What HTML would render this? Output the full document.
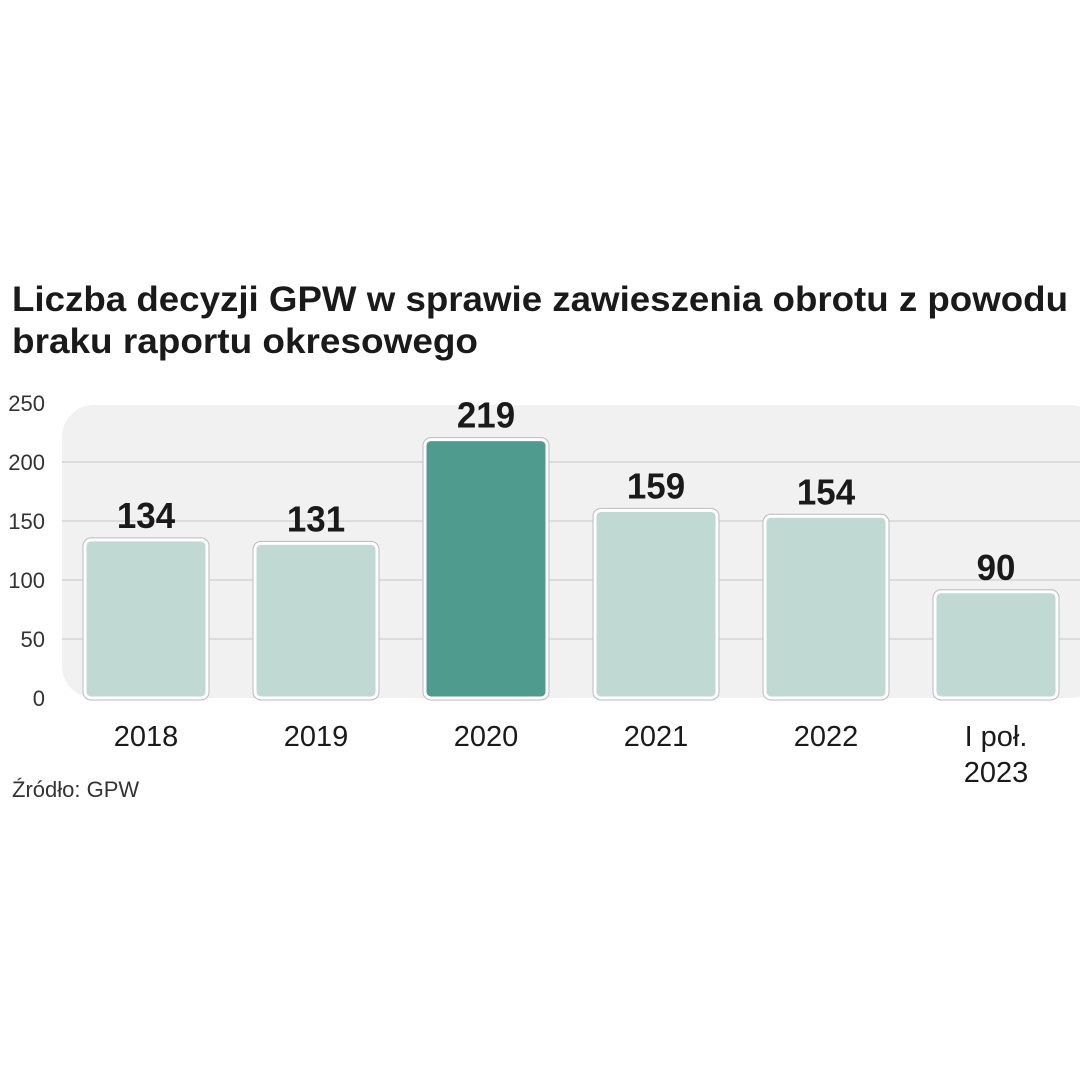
<!DOCTYPE html>
<html><head><meta charset="utf-8"><style>
html,body{margin:0;padding:0;background:#fff;}
svg{display:block;font-family:"Liberation Sans",sans-serif;}
</style></head><body>
<svg id="chart" width="1080" height="1080" viewBox="0 0 1080 1080">
<text x="12" y="311" font-size="35" font-weight="bold" fill="#1a1a1a" textLength="1056" lengthAdjust="spacingAndGlyphs">Liczba decyzji GPW w sprawie zawieszenia obrotu z powodu</text>
<text x="12" y="353" font-size="35" font-weight="bold" fill="#1a1a1a" textLength="466" lengthAdjust="spacingAndGlyphs">braku raportu okresowego</text>
<rect x="62" y="405" width="1040" height="293" rx="32" fill="#f1f1f2"/>
<g id="grid"></g><g id="ticks"></g><g id="bars"></g><g id="xlabels"></g>
<text x="12" y="797" font-size="22" fill="#333">Źródło: GPW</text>
</svg>
<script>
const categories = ["2018","2019","2020","2021","2022","I poł.|2023"];
const values = [134,131,219,159,154,90];
const highlight = [false,false,true,false,false,false];
const tickValues = [0,50,100,150,200,250];
const NS="http://www.w3.org/2000/svg";
const y0=698, pxPer=1.18;
function y(v){return y0-v*pxPer;}
function x(i){return 85+i*170;}
const bw=122;
function mk(tag,attrs,parent){const e=document.createElementNS(NS,tag);for(const k in attrs)e.setAttribute(k,attrs[k]);parent.appendChild(e);return e;}
const grid=document.getElementById('grid'),ticks=document.getElementById('ticks'),bars=document.getElementById('bars'),xl=document.getElementById('xlabels');
tickValues.forEach(t=>{
 if(t>0&&t<250){const l=mk('line',{x1:62,x2:1080,y1:y(t),y2:y(t),stroke:'#d6d6d6','stroke-width':1.5},grid);
 
 }
 const tx=mk('text',{x:45,y:y(t)+8,'text-anchor':'end','font-size':22,fill:'#333'},ticks);
 tx.textContent=t;
 
 
});
values.forEach((v,i)=>{
 const r=mk('rect',{x:x(i),y:y(v),width:bw,height:y0-y(v),rx:6,fill:highlight[i]?'#4f9b8e':'#c0d9d3',stroke:'#fff','stroke-width':3},bars);
 
 
 const o=mk('rect',{x:x(i)-2,y:y(v)-2,width:bw+4,height:y0-y(v)+4,rx:8,fill:'none',stroke:'#bbb','stroke-width':1},bars);
 
 
 const t=mk('text',{x:x(i)+bw/2,y:y(v)-12,'text-anchor':'middle','font-size':36,'font-weight':'bold',fill:'#1a1a1a',transform:'translate('+(x(i)+bw/2)+',0) scale(0.97,1) translate('+(-(x(i)+bw/2))+',0)'},bars);
 t.textContent=v;
 
 
 categories[i].split('|').forEach((s,j)=>{
  const c=mk('text',{x:x(i)+bw/2,y:746+j*36,'text-anchor':'middle','font-size':29,fill:'#1a1a1a'},xl);
  c.textContent=s;
  
  
 });
});
</script>
</body></html>
